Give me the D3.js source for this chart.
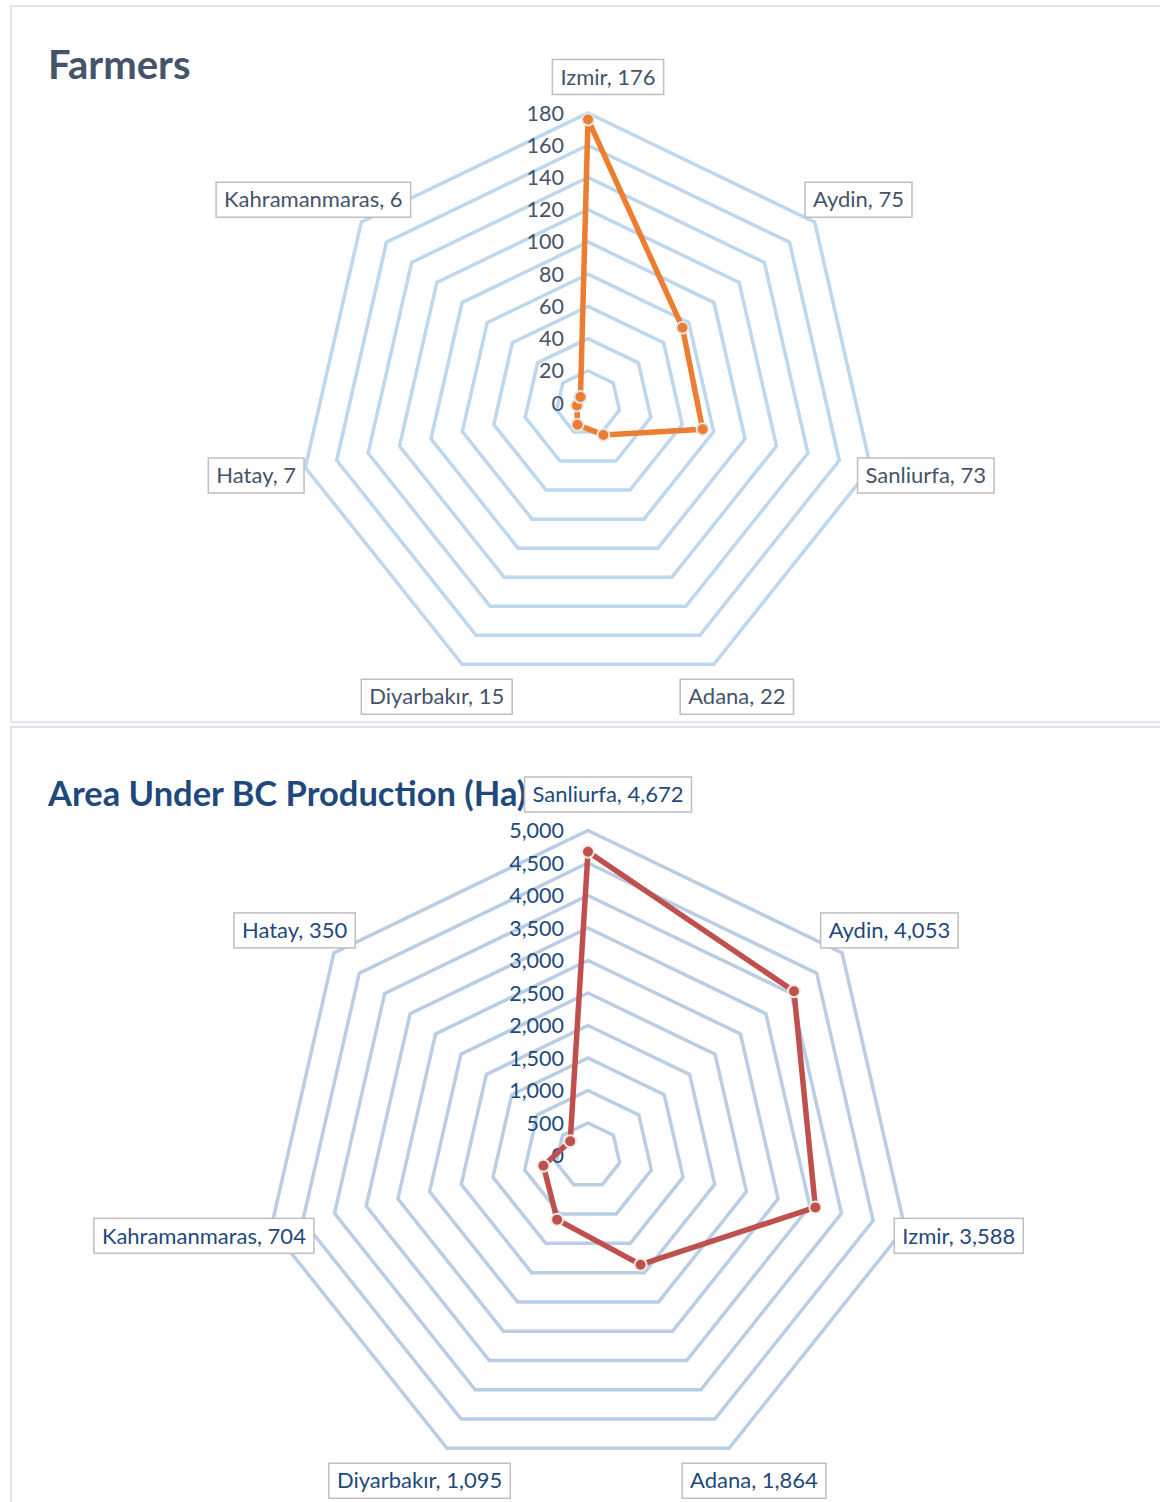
<!DOCTYPE html>
<html>
<head>
<meta charset="utf-8">
<script src="https://cdn.jsdelivr.net/npm/d3@7"></script>
<style>
  body { margin: 0; background: #fff; }
  svg { display: block; font-family: Lato, "Open Sans", sans-serif; }
</style>
</head>
<body>
<svg id="chart" width="1160" height="1502"></svg>
<script>
// Farmers radar
const farmerCategories = ["Izmir", "Aydin", "Sanliurfa", "Adana", "Diyarbakır", "Hatay", "Kahramanmaras"];
const farmerValues = [176, 75, 73, 22, 15, 7, 6];
const farmerTicks = [0, 20, 40, 60, 80, 100, 120, 140, 160, 180];

// Area radar
const areaCategories = ["Sanliurfa", "Aydin", "Izmir", "Adana", "Diyarbakır", "Kahramanmaras", "Hatay"];
const areaValues = [4672, 4053, 3588, 1864, 1095, 704, 350];
const areaTicks = [0, 500, 1000, 1500, 2000, 2500, 3000, 3500, 4000, 4500, 5000];

var svg = d3.select("#chart");

function drawPanel(opt) {
  var g = svg.append("g");

  // panel frame
  g.append("rect")
    .attr("x", 11).attr("y", opt.top)
    .attr("width", 1170).attr("height", opt.height)
    .attr("fill", "#fff")
    .attr("stroke", opt.frame)
    .attr("stroke-width", 2);

  g.append("text")
    .attr("x", 48).attr("y", opt.titleY)
    .attr("font-size", opt.titleSize)
    .attr("font-weight", "bold")
    .attr("fill", opt.titleColor)
    .text(opt.title);

  var n = opt.categories.length;
  var cx = 588, cy = opt.cy;
  var r = d3.scaleLinear().domain([0, d3.max(opt.ticks)]).range([0, opt.outerR]);
  var angle = d3.scaleLinear().domain([0, n]).range([0, 2 * Math.PI]);

  var plot = g.append("g").attr("transform", "translate(" + cx + "," + cy + ")");

  var ringLine = d3.lineRadial()
    .angle(function(d, i) { return angle(i); })
    .radius(function(d) { return d; })
    .curve(d3.curveLinearClosed);

  // grid rings
  plot.selectAll(".ring")
    .data(opt.ticks.filter(function(t) { return t > 0; }))
    .enter().append("path")
    .attr("class", "ring")
    .attr("d", function(t) { return ringLine(d3.range(n).map(function() { return r(t); })); })
    .attr("fill", "none")
    .attr("stroke", opt.gridColor)
    .attr("stroke-width", 3.5);

  // tick labels
  plot.selectAll(".tick")
    .data(opt.ticks)
    .enter().append("text")
    .attr("x", -24)
    .attr("y", function(t) { return -r(t); })
    .attr("dy", "0.35em")
    .attr("text-anchor", "end")
    .attr("font-size", 21.5)
    .attr("fill", opt.textColor)
    .text(function(t) { return d3.format(",")(t); });

  // series line
  var dataLine = d3.lineRadial()
    .angle(function(d, i) { return angle(i); })
    .radius(function(d) { return r(d); })
    .curve(d3.curveLinearClosed);

  plot.append("path")
    .attr("d", dataLine(opt.values))
    .attr("fill", "none")
    .attr("stroke", opt.lineColor)
    .attr("stroke-width", 5.5)
    .attr("stroke-linejoin", "round");

  plot.selectAll(".dot")
    .data(opt.values)
    .enter().append("circle")
    .attr("cx", function(d, i) { return r(d) * Math.sin(angle(i)); })
    .attr("cy", function(d, i) { return -r(d) * Math.cos(angle(i)); })
    .attr("r", 6)
    .attr("fill", opt.lineColor)
    .attr("stroke", opt.markerStroke)
    .attr("stroke-width", 2);

  // data labels "Category, value" in boxes round the outside
  var rL = opt.outerR + 36;
  opt.categories.forEach(function(c, i) {
    var a = angle(i);
    var lg = plot.append("g");
    var txt = lg.append("text")
      .attr("text-anchor", "middle")
      .attr("dy", "0.35em")
      .attr("font-size", 22)
      .attr("fill", opt.textColor)
      .text(c + ", " + d3.format(",")(opt.values[i]));
    var w = txt.node().getComputedTextLength() + 16, h = 35;
    lg.insert("rect", "text")
      .attr("x", -w / 2).attr("y", -h / 2)
      .attr("width", w).attr("height", h)
      .attr("fill", "#fff")
      .attr("stroke", "#bfbfbf")
      .attr("stroke-width", 1.5);
    var lx = rL * Math.sin(a) + 0.3 * Math.sin(a) * w / 2 + 20 * Math.pow(Math.max(0, Math.cos(a)), 4);
    var ly = -rL * Math.cos(a);
    lg.attr("transform", "translate(" + lx + "," + ly + ")");
  });
}

drawPanel({
  top: 6, height: 716, title: "Farmers", titleY: 79, titleSize: 40,
  titleColor: "#44546a", textColor: "#44546a", frame: "#e1e5ea",
  categories: farmerCategories, values: farmerValues, ticks: farmerTicks,
  cy: 403, outerR: 290, gridColor: "#bdd7ee",
  lineColor: "#ed7d31", markerStroke: "#e6e6e6"
});

drawPanel({
  top: 727, height: 800, title: "Area Under BC Production (Ha)", titleY: 806, titleSize: 34.5,
  titleColor: "#1f497d", textColor: "#1f497d", frame: "#dbe5f1",
  categories: areaCategories, values: areaValues, ticks: areaTicks,
  cy: 1155.5, outerR: 325, gridColor: "#b9cde5",
  lineColor: "#c0504d", markerStroke: "#eeece1"
});
</script>
</body>
</html>
